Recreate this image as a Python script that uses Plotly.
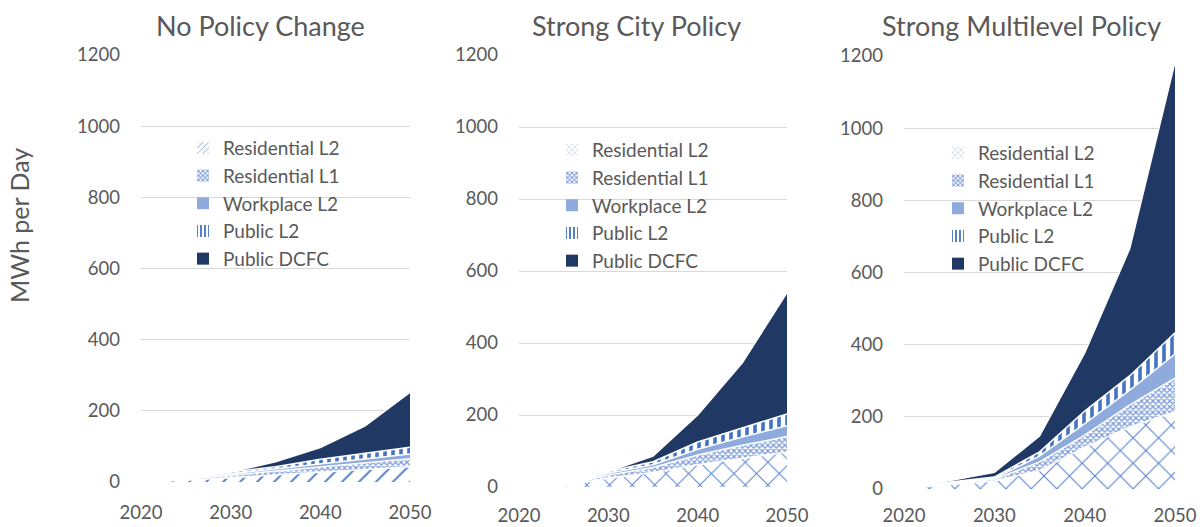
import plotly.graph_objects as go

years = [2020, 2025, 2030, 2035, 2040, 2045, 2050]
series_names = ["Residential L2", "Residential L1", "Workplace L2", "Public L2", "Public DCFC"]

# No Policy Change
p1_res_l2 = [1, 5, 12, 20, 28, 36, 43]
p1_res_l1 = [1, 3, 7, 11, 15, 19, 22]
p1_work_l2 = [0.5, 2, 4, 6, 9, 11, 14]
p1_pub_l2 = [0.5, 2, 5, 6, 12, 15, 19]
p1_dcfc = [0, 0, 0, 14, 33, 77, 154]

# Strong City Policy
p2_res_l2 = [0, 3, 25, 40, 62, 80, 97]
p2_res_l1 = [0, 0, 8, 14, 27, 36, 43]
p2_work_l2 = [0, 0, 5, 8, 16, 23, 30]
p2_pub_l2 = [0, 0, 5, 8, 20, 26, 33]
p2_dcfc = [0, 0, 0, 16, 75, 180, 337]

# Strong Multilevel Policy
p3_res_l2 = [2, 12, 22, 51, 116, 172, 214]
p3_res_l1 = [1, 3, 5, 24, 33, 61, 93]
p3_work_l2 = [1, 2, 3, 16, 32, 41, 67]
p3_pub_l2 = [1, 2, 3, 12, 35, 40, 59]
p3_dcfc = [0, 4, 13, 44, 161, 353, 750]

panel_titles = ["No Policy Change", "Strong City Policy", "Strong Multilevel Policy"]
y_ticks = [0, 200, 400, 600, 800, 1000, 1200]
x_ticks = [2020, 2030, 2040, 2050]

panels = [
    [p1_res_l2, p1_res_l1, p1_work_l2, p1_pub_l2, p1_dcfc],
    [p2_res_l2, p2_res_l1, p2_work_l2, p2_pub_l2, p2_dcfc],
    [p3_res_l2, p3_res_l1, p3_work_l2, p3_pub_l2, p3_dcfc],
]

W, H = 1204, 527
# plot-area pixel boxes (left, right, top, bottom)
boxes = [(141, 410, 55, 482), (519, 787, 55, 487), (904, 1175, 56, 489)]
x_standoff = [17, 15, 13]
legend_px = [(183, 129), (552, 131), (938, 134)]
title_px = [(260, 26), (636, 26), (1021, 26)]

GRAY = "#595959"
FONT = "Lato"

res_l2_patterns = [
    dict(shape="/", fgcolor="#4472C4", bgcolor="white", size=12, solidity=0.15, fillmode="replace"),
    dict(shape="x", fgcolor="#5B84D0", bgcolor="white", size=16, solidity=0.12, fillmode="replace"),
    dict(shape="x", fgcolor="#5B84D0", bgcolor="white", size=18, solidity=0.12, fillmode="replace"),
]


def styles_for(i):
    return [
        dict(color="white", pattern=res_l2_patterns[i]),
        dict(color="white", pattern=dict(shape="x", fgcolor="#7C9BD8", bgcolor="white",
                                         size=4, solidity=0.55, fillmode="replace")),
        dict(color="#8FAADC", pattern=None),
        dict(color="white", pattern=dict(shape="|", fgcolor="#4472C4", bgcolor="white",
                                         size=8, solidity=0.45, fillmode="replace")),
        dict(color="#203864", pattern=None),
    ]


fig = go.Figure()
for i, data in enumerate(panels):
    sfx = "" if i == 0 else str(i + 1)
    leg = "legend" if i == 0 else f"legend{i + 1}"
    for name, vals, st in zip(series_names, data, styles_for(i)):
        kw = dict(fillcolor=st["color"])
        if st["pattern"]:
            kw["fillpattern"] = st["pattern"]
        fig.add_trace(go.Scatter(
            x=years, y=vals, name=name, mode="lines",
            stackgroup=f"g{i}", line=dict(color="white", width=1.5),
            xaxis=f"x{sfx}", yaxis=f"y{sfx}", showlegend=False, **kw,
        ))
    # legend swatches (square symbols)
    for name, st in zip(series_names, styles_for(i)):
        mk = dict(color=st["color"] if not st["pattern"] else st["pattern"]["fgcolor"],
                  line=dict(width=0))
        if st["pattern"]:
            p = dict(st["pattern"])
            p["size"] = min(p["size"], 5)
            mk["pattern"] = p
        fig.add_trace(go.Bar(
            x=[None], y=[None], name=name, marker=mk,
            xaxis=f"x{sfx}", yaxis=f"y{sfx}", legend=leg, showlegend=True,
        ))

layout = dict(
    width=W, height=H, margin=dict(l=0, r=0, t=0, b=0, autoexpand=False),
    paper_bgcolor="white", plot_bgcolor="white",
    font=dict(family=FONT, color=GRAY, size=18),
    showlegend=True,
)
for i, (l, r, t, b) in enumerate(boxes):
    sfx = "" if i == 0 else str(i + 1)
    layout[f"xaxis{sfx}"] = dict(
        domain=[l / W, r / W], anchor=f"y{sfx}", range=[2020, 2050],
        tickvals=x_ticks, showgrid=False, zeroline=False, showline=False,
        ticks="", ticklabelstandoff=x_standoff[i],
        tickfont=dict(size=18.5, color=GRAY, family=FONT),
        fixedrange=True, automargin=False,
    )
    layout[f"yaxis{sfx}"] = dict(
        domain=[1 - b / H, 1 - t / H], anchor=f"x{sfx}", range=[0, 1200],
        tickvals=y_ticks, showgrid=True, gridcolor="#D9D9D9", gridwidth=1,
        zeroline=False, showline=False, ticks="", ticklabelstandoff=20,
        tickfont=dict(size=18.5, color=GRAY, family=FONT), fixedrange=True, automargin=False,
    )
    lx, ly = legend_px[i]
    leg = "legend" if i == 0 else f"legend{i + 1}"
    layout[leg] = dict(
        x=lx / W, y=1 - ly / H, xanchor="left", yanchor="top",
        bgcolor="rgba(0,0,0,0)", traceorder="normal",
        font=dict(size=19, color=GRAY, family=FONT),
    )

annotations = []
for (tx, ty), txt in zip(title_px, panel_titles):
    annotations.append(dict(
        text=txt, x=tx / W, y=1 - ty / H, xref="paper", yref="paper",
        xanchor="center", yanchor="middle", showarrow=False,
        font=dict(size=27, color=GRAY, family=FONT),
    ))
annotations.append(dict(
    text="MWh per Day", x=19 / W, y=1 - 226 / H, xref="paper", yref="paper",
    xanchor="center", yanchor="middle", showarrow=False, textangle=-90,
    font=dict(size=25, color=GRAY, family=FONT),
))
layout["annotations"] = annotations

fig.update_layout(**layout)
fig.write_html(
    "out.html",
    config={"displayModeBar": False},
    post_script="document.body.style.margin='0';document.body.style.overflow='hidden';",
)
